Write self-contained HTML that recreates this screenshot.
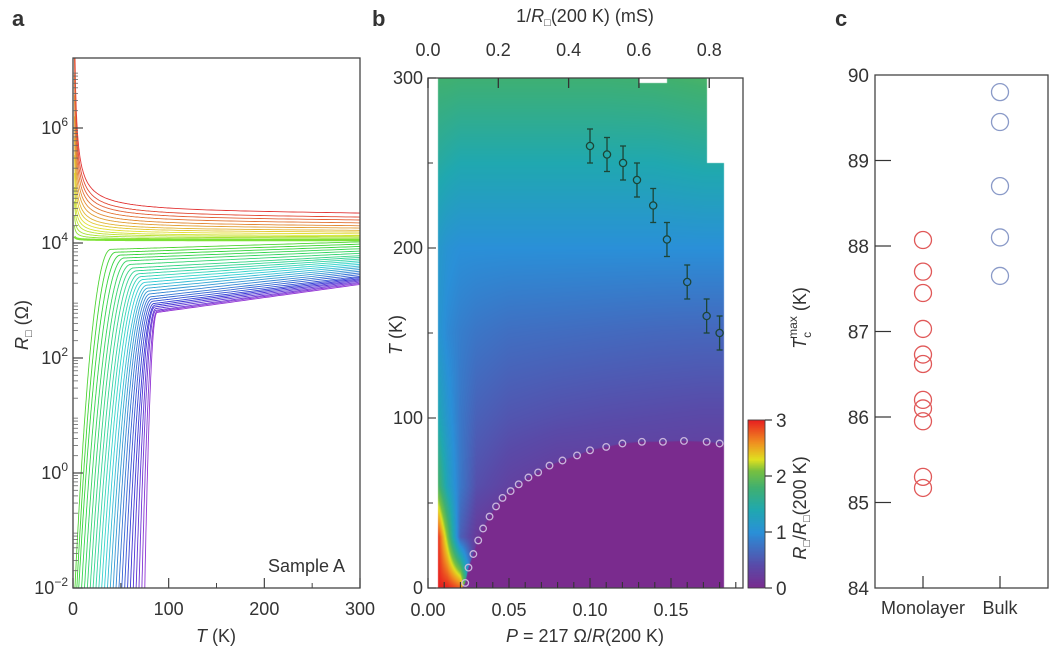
<!DOCTYPE html>
<html><head><meta charset="utf-8">
<style>
body{margin:0;background:#fff;}
#wrap{position:relative;width:1055px;height:660px;overflow:hidden;font-family:"Liberation Sans",sans-serif;}
#heat{position:absolute;left:0;top:0;}
#svg{position:absolute;left:0;top:0;}
text{font-family:"Liberation Sans",sans-serif;fill:#333;}
</style></head>
<body>
<div id="wrap">
<canvas id="heat" width="1055" height="660"></canvas>
<svg id="svg" width="1055" height="660" xmlns="http://www.w3.org/2000/svg">
  <g id="ga"></g>
  <g id="gb"></g>
  <g id="gc"></g>
</svg>
</div>
<script>
// ---------- Panel a data ----------
const insR300 = [4.52,4.45,4.4,4.35,4.3,4.26,4.22,4.19,4.16,4.13,4.11,4.09,4.07,4.05];
const insR2   = [7.3,7.0,6.7,6.4,6.1,5.8,5.5,5.25,5.0,4.8,4.6,4.4,4.25,4.1];
const scR300  = [4.02,3.98,3.94,3.9,3.86,3.82,3.78,3.75,3.72,3.69,3.66,3.63,3.6,3.57,3.54,3.51,3.48,3.45,3.42,3.4,3.38,3.36,3.34,3.32,3.3,3.28];
const scR100  = [3.92,3.87,3.82,3.77,3.72,3.66,3.6,3.55,3.5,3.45,3.4,3.35,3.3,3.25,3.2,3.15,3.1,3.06,3.02,2.98,2.95,2.92,2.89,2.86,2.84,2.82];
const scTon   = [40,45,50,54,58,61,64,67,70,72,74,76,78,79,80,81,82,83,84,85,86,86,87,87,88,88];
const scTzero = [2,4,6,9,12,15,18,21,24,27,30,33,36,39,42,45,48,51,54,57,60,63,66,69,72,75];
const aXTicks = [0,100,200,300];
const aYTicks = [-2,0,2,4,6];

// ---------- Panel b data ----------
const heatT = [300,250,200,150,100,60,30,0];
const heatP = [0.006,0.012,0.02,0.03,0.05,0.08,0.11,0.14,0.17,0.183];
const heatV = [
 [1.8,1.8,1.78,1.78,1.78,1.78,1.78,1.8,1.85,1.85],
 [1.5,1.45,1.4,1.4,1.4,1.4,1.4,1.4,1.45,1.45],
 [1.15,1.05,1.0,1.0,1.0,1.0,1.0,1.0,1.0,1.0],
 [1.1,0.95,0.85,0.78,0.72,0.7,0.68,0.66,0.65,0.65],
 [1.4,1.1,0.8,0.6,0.5,0.45,0.42,0.4,0.38,0.38],
 [1.9,1.3,0.8,0.45,0.3,0.2,0.2,0.2,0.2,0.2],
 [3,2.1,0.6,0.2,0,0,0,0,0,0],
 [3,3,2.8,0,0,0,0,0,0,0]
];
const domeP = [0.023,0.025,0.028,0.031,0.034,0.038,0.042,0.046,0.051,0.056,0.062,0.068,0.075,0.083,0.092,0.100,0.110,0.120,0.132,0.145,0.158,0.172,0.180];
const domeT = [3,12,20,28,35,42,48,53,57,61,65,68,72,75,78,81,83,85,86,86,86.5,86,85];
const pgP = [0.100,0.1105,0.1204,0.129,0.139,0.1475,0.160,0.172,0.180];
const pgT = [260,255,250,240,225,205,180,160,150];
const pgErr = [10,10,10,10,10,10,10,10,10];
const bXTicks = [0,0.05,0.10,0.15];
const bYTicks = [0,100,200,300];
const bTopTicks = [0,0.2,0.4,0.6,0.8];
const cbTicks = [0,1,2,3];

// ---------- Panel c data ----------
const monoVals = [88.07,87.7,87.45,87.03,86.73,86.62,86.2,86.1,85.95,85.3,85.17];
const bulkVals = [89.8,89.45,88.7,88.1,87.65];
const cYTicks = [84,85,86,87,88,89,90];

// ---------- helpers ----------
const NS='http://www.w3.org/2000/svg';
function mk(parent,tag,attrs,txt){const e=document.createElementNS(NS,tag);for(const k in attrs)e.setAttribute(k,attrs[k]);if(txt!==undefined)e.textContent=txt;parent.appendChild(e);return e;}
const ga=document.getElementById('ga'),gb=document.getElementById('gb'),gc=document.getElementById('gc');
const svg=document.getElementById('svg');

[['a',12],['b',372],['c',835]].forEach(([l,x])=>{
  const t=mk(svg,'text',{x:x,y:26,'font-size':22,'font-weight':'bold',fill:'#222'},l);
  
  
});

// ================= Panel a =================
const aL=73,aR=360,aT=58,aB=588;
const aX=v=>aL+v/300*(aR-aL);
const aY=lg=>aB-(lg+2)*57.5;
const defs=mk(svg,'defs',{});
const cp=mk(defs,'clipPath',{id:'clipa'});mk(cp,'rect',{x:aL,y:aT,width:aR-aL,height:aB-aT});
const curves=mk(ga,'g',{'clip-path':'url(#clipa)'});


function hueFor(i){return i<insR300.length? i/(insR300.length-1)*95 : 110+(i-insR300.length)/(scR300.length-1)*165;}
insR300.forEach((r300,i)=>{
  let d='';
  for(let T=300;T>=1.5;T-= (T>100?5:(T>10?1:0.25))){
    const f=(1/T-1/300)/(1/2-1/300);
    const lg=r300+(insR2[i]-r300)*Math.pow(f,0.8);
    d+=(d?'L':'M')+aX(T).toFixed(1)+','+aY(lg).toFixed(1);
  }
  const p=mk(curves,'path',{d:d,fill:'none',stroke:`hsl(${hueFor(i)},75%,55%)`,'stroke-width':i===insR300.length-1?2.2:0.9});
  
  
});
scR300.forEach((r300,j)=>{
  const i=j+insR300.length;
  const r100=scR100[j],ton=scTon[j],tz=scTzero[j];
  const lin=T=>r100+(r300-r100)*(T-100)/200;
  const ron=lin(ton);
  let d='';
  for(let T=300;T>=tz;T-=(T>100?5:0.25)){
    let lg;
    if(T>=ton) lg=lin(T);
    else{const f=(ton-T)/(ton-tz);lg=ron-(ron+2)*Math.pow(f,2.2);}
    d+=(d?'L':'M')+aX(T).toFixed(1)+','+aY(lg).toFixed(1);
  }
  d+='L'+aX(tz).toFixed(1)+','+aY(-2.2);
  const p=mk(curves,'path',{d:d,fill:'none',stroke:`hsl(${hueFor(i)},65%,52%)`,'stroke-width':0.9});
  
  
});
const boxA=mk(ga,'rect',{x:aL,y:aT,width:aR-aL,height:aB-aT,fill:'none',stroke:'#444','stroke-width':1.3});

aXTicks.forEach(v=>{
  mk(ga,'line',{x1:aX(v),x2:aX(v),y1:aB,y2:aB-10,stroke:'#444','stroke-width':1.2});
  const t=mk(ga,'text',{x:aX(v),y:aB+27,'font-size':18,'text-anchor':'middle'},v);
  
});
[50,150,250].forEach(v=>mk(ga,'line',{x1:aX(v),x2:aX(v),y1:aB,y2:aB-5,stroke:'#444'}));
aYTicks.forEach(v=>{
  mk(ga,'line',{x1:aL,x2:aL+10,y1:aY(v),y2:aY(v),stroke:'#444','stroke-width':1.2});
  const t=mk(ga,'text',{x:aL-5,y:aY(v)+6,'font-size':18,'text-anchor':'end'});
  
  t.appendChild(document.createTextNode('10'));
  mk(t,'tspan',{dy:-8,'font-size':12},String(v).replace('-','\u2212'));
});
for(let dec=-2;dec<7.3;dec++){for(let m=2;m<=9;m++){const lg=dec+Math.log10(m);if(lg<7.25)mk(ga,'line',{x1:aL,x2:aL+5,y1:aY(lg),y2:aY(lg),stroke:'#666','stroke-width':0.8});}}
const aXt=mk(ga,'text',{x:216,y:642,'font-size':18,'text-anchor':'middle'});

mk(aXt,'tspan',{'font-style':'italic'},'T');aXt.appendChild(document.createTextNode(' (K)'));
const aYt=mk(ga,'text',{transform:'translate(28,325) rotate(-90)','font-size':18,'text-anchor':'middle'});

mk(aYt,'tspan',{'font-style':'italic'},'R');mk(aYt,'tspan',{'font-size':11,dy:4},'\u25A1');mk(aYt,'tspan',{dy:-4},' (\u03A9)');
const sa=mk(ga,'text',{x:345,y:572,'font-size':18,'text-anchor':'end'},'Sample A');


// ================= Panel b =================
const bL=428,bR=743,bT=78,bB=588;
const bX=p=>bL+p*1620;
const bY=t=>bB-t*1.7;
const mSx=m=>bL+m*0.217*1620;
const cmapV=[0,0.4,0.8,1.0,1.4,1.8,2.1,2.3,2.6,3];
const cmapC=[[122,43,142],[90,74,168],[58,120,200],[42,144,216],[32,168,176],[64,176,112],[120,192,64],[224,224,32],[240,144,32],[232,32,32]];
function cmap(v){v=Math.max(0,Math.min(3,v));for(let k=1;k<cmapV.length;k++){if(v<=cmapV[k]){const f=(v-cmapV[k-1])/(cmapV[k]-cmapV[k-1]);return cmapC[k-1].map((c,i)=>Math.round(c+(cmapC[k][i]-c)*f));}}return cmapC[cmapC.length-1];}
function bracket(arr,v,desc){for(let k=0;k<arr.length-1;k++){const a=arr[k],b=arr[k+1];if(desc?(v<=a&&v>=b):(v>=a&&v<=b))return [k,(v-a)/(b-a)];}return v<(desc?arr[arr.length-1]:arr[0])?(desc?[arr.length-2,1]:[0,0]):(desc?[0,0]:[arr.length-2,1]);}
const cv=document.getElementById('heat');const ctx=cv.getContext('2d');
const x0=Math.round(bX(heatP[0])),x1=Math.round(bX(heatP[heatP.length-1]));
const y0=Math.round(bY(300)),y1=Math.round(bY(0));
const img=ctx.createImageData(x1-x0,y1-y0);
for(let py=y0;py<y1;py++){const T=(bB-py-0.5)/1.7;const [ri,rf]=bracket(heatT,T,true);
  for(let px=x0;px<x1;px++){const P=(px+0.5-bL)/1620;const [ci,cf]=bracket(heatP,P,false);
    const v=(heatV[ri][ci]*(1-cf)+heatV[ri][ci+1]*cf)*(1-rf)+(heatV[ri+1][ci]*(1-cf)+heatV[ri+1][ci+1]*cf)*rf;
    const c=cmap(v);const o=((py-y0)*(x1-x0)+(px-x0))*4;img.data[o]=c[0];img.data[o+1]=c[1];img.data[o+2]=c[2];img.data[o+3]=255;}}
ctx.putImageData(img,x0,y0);
ctx.fillStyle='rgb(122,43,142)';ctx.beginPath();ctx.moveTo(bX(0.021),bY(0));
domeP.forEach((p,k)=>ctx.lineTo(bX(p),bY(domeT[k])));
ctx.lineTo(x1,bY(domeT[domeT.length-1]));ctx.lineTo(x1,y1);ctx.closePath();ctx.fill();
ctx.fillStyle='#fff';
ctx.fillRect(Math.round(bX(0.172)),y0,x1-Math.round(bX(0.172))+2,bY(250)-y0);
ctx.fillRect(mSx(0.6),y0,mSx(0.68)-mSx(0.6),5);
const cbL=748,cbR=765,cbTop=bY(100)+2,cbBot=bB;
for(let py=Math.round(cbTop);py<cbBot;py++){const v=(cbBot-py)/(cbBot-cbTop)*3;const c=cmap(v);ctx.fillStyle=`rgb(${c[0]},${c[1]},${c[2]})`;ctx.fillRect(cbL,py,cbR-cbL,1);}

const heatRegion=mk(gb,'rect',{x:x0,y:y0,width:x1-x0,height:y1-y0,fill:'none'});

domeP.forEach((p,k)=>{const c=mk(gb,'circle',{cx:bX(p),cy:bY(domeT[k]),r:3.3,fill:'none',stroke:'#c9b6dc','stroke-width':1.3});
  });
pgP.forEach((p,k)=>{const x=bX(p),y=bY(pgT[k]),e=pgErr[k]*1.7;
  const g=mk(gb,'g',{stroke:'#1d4536','stroke-width':1.3,fill:'none'});
  
  mk(g,'line',{x1:x,x2:x,y1:y-e,y2:y-4});mk(g,'line',{x1:x,x2:x,y1:y+4,y2:y+e});
  mk(g,'line',{x1:x-3,x2:x+3,y1:y-e,y2:y-e});mk(g,'line',{x1:x-3,x2:x+3,y1:y+e,y2:y+e});
  mk(g,'circle',{cx:x,cy:y,r:3.6});});
const boxB=mk(gb,'rect',{x:bL,y:bT,width:bR-bL,height:bB-bT,fill:'none',stroke:'#444','stroke-width':1.3});

for(let k=0;k<=19;k++){const p=k*0.01;mk(gb,'line',{x1:bX(p),x2:bX(p),y1:bB,y2:bB-(k%5===0?10:6),stroke:'#333','stroke-width':1.1});}
bXTicks.forEach(v=>{const t=mk(gb,'text',{x:bX(v),y:bB+28,'font-size':18,'text-anchor':'middle'},v.toFixed(2));
  });
bYTicks.forEach(v=>{mk(gb,'line',{x1:bL,x2:bL+8,y1:bY(v),y2:bY(v),stroke:'#333','stroke-width':1.1});
  const t=mk(gb,'text',{x:bL-5,y:bY(v)+6,'font-size':18,'text-anchor':'end'},v);
  });
[50,150,250].forEach(v=>mk(gb,'line',{x1:bL,x2:bL+5,y1:bY(v),y2:bY(v),stroke:'#333'}));
bTopTicks.forEach(v=>{mk(gb,'line',{x1:mSx(v),x2:mSx(v),y1:bT,y2:bT+10,stroke:'#333','stroke-width':1.3});
  const t=mk(gb,'text',{x:mSx(v),y:bT-22,'font-size':18,'text-anchor':'middle'},v.toFixed(1));
  });
const bXt=mk(gb,'text',{x:585,y:642,'font-size':18,'text-anchor':'middle'});

mk(bXt,'tspan',{'font-style':'italic'},'P');bXt.appendChild(document.createTextNode(' = 217 \u03A9/'));mk(bXt,'tspan',{'font-style':'italic'},'R');bXt.appendChild(document.createTextNode('(200 K)'));
const bTt=mk(gb,'text',{x:585,y:22,'font-size':18,'text-anchor':'middle'});

bTt.appendChild(document.createTextNode('1/'));mk(bTt,'tspan',{'font-style':'italic'},'R');mk(bTt,'tspan',{'font-size':11,dy:4},'\u25A1');mk(bTt,'tspan',{dy:-4},'(200 K) (mS)');
const bYt=mk(gb,'text',{transform:'translate(402,335) rotate(-90)','font-size':18,'text-anchor':'middle'});

mk(bYt,'tspan',{'font-style':'italic'},'T');bYt.appendChild(document.createTextNode(' (K)'));
const cbF=mk(gb,'rect',{x:cbL,y:cbTop,width:cbR-cbL,height:cbBot-cbTop,fill:'none',stroke:'#333','stroke-width':0.8});

cbTicks.forEach(v=>{const y=cbBot-v/3*(cbBot-cbTop);mk(gb,'line',{x1:cbR,x2:cbR+7,y1:y,y2:y,stroke:'#333','stroke-width':1.2});
  const t=mk(gb,'text',{x:cbR+11,y:y+7,'font-size':19},v);});
const cbt=mk(gb,'text',{transform:'translate(806,508) rotate(-90)','font-size':18,'text-anchor':'middle'});

mk(cbt,'tspan',{'font-style':'italic'},'R');mk(cbt,'tspan',{'font-size':11,dy:4},'\u25A1');mk(cbt,'tspan',{dy:-4},'/');mk(cbt,'tspan',{'font-style':'italic'},'R');mk(cbt,'tspan',{'font-size':11,dy:4},'\u25A1');mk(cbt,'tspan',{dy:-4},'(200 K)');

// ================= Panel c =================
const cL=875,cR=1048,cT=75,cB=588;
const cY=v=>cB-(v-84)*85.5;
const catX={Monolayer:923,Bulk:1000};
const boxC=mk(gc,'rect',{x:cL,y:cT,width:cR-cL,height:cB-cT,fill:'none',stroke:'#444','stroke-width':1.3});

cYTicks.forEach(v=>{if(v>84&&v<90)mk(gc,'line',{x1:cL,x2:cL+16,y1:cY(v),y2:cY(v),stroke:'#333','stroke-width':1.2});
  const t=mk(gc,'text',{x:cL-6,y:cY(v)+7,'font-size':19,'text-anchor':'end'},v);
  });
Object.keys(catX).forEach(k=>{mk(gc,'line',{x1:catX[k],x2:catX[k],y1:cB,y2:cB-12,stroke:'#333','stroke-width':1.2});
  const t=mk(gc,'text',{x:catX[k],y:cB+26,'font-size':18,'text-anchor':'middle'},k);
  });
monoVals.forEach(v=>{const c=mk(gc,'circle',{cx:catX.Monolayer,cy:cY(v),r:8.5,fill:'none',stroke:'#e05858','stroke-width':1.3});
  });
bulkVals.forEach(v=>{const c=mk(gc,'circle',{cx:catX.Bulk,cy:cY(v),r:8.5,fill:'none',stroke:'#8a9ac8','stroke-width':1.3});
  });
const cYt=mk(gc,'text',{transform:'translate(806,318) rotate(-90)','font-size':18,'text-anchor':'middle'});

mk(cYt,'tspan',{'font-style':'italic'},'T');mk(cYt,'tspan',{'font-size':12,dy:5},'c');mk(cYt,'tspan',{'font-size':12,dy:-14,dx:-7},'max');mk(cYt,'tspan',{dy:9},' (K)');
</script>
</body></html>
